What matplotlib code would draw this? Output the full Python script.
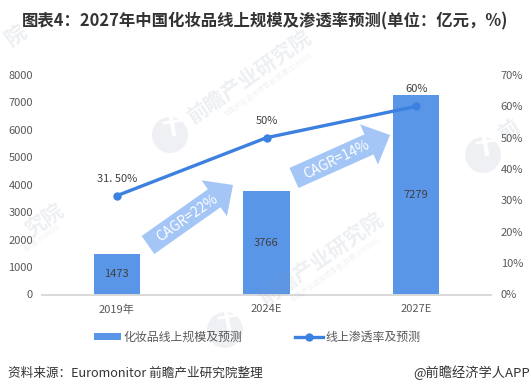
import matplotlib
matplotlib.use("Agg")
import matplotlib.pyplot as plt
from matplotlib.lines import Line2D
from matplotlib.patches import FancyArrow, Circle
from matplotlib.transforms import Affine2D

plt.rcParams['font.family'] = ['Noto Sans CJK SC', 'DejaVu Sans']

categories = ['2019年', '2024E', '2027E']
sizes = [1473, 3766, 7279]
rates = [31.5, 50, 60]
rate_labels = ['31. 50%', '50%', '60%']
left_ticks = [0, 1000, 2000, 3000, 4000, 5000, 6000, 7000, 8000]
right_ticks = [0, 10, 20, 30, 40, 50, 60, 70]

W, H = 531, 392
fig = plt.figure(figsize=(W / 100, H / 100), dpi=100)
ax = fig.add_axes([42 / W, 1 - 294.5 / H, 449 / W, 219.5 / H])
ax2 = ax.twinx()

grey = '#595959'
bar_color = '#5A96E7'
line_color = '#3C80E0'
arrow_color = '#A3C6F6'

x = [0, 1, 2]
ax.bar(x, sizes, width=0.31, color=bar_color, zorder=2, label='化妆品线上规模及预测')
ax.set_xlim(-0.5, 2.5)
ax.set_ylim(0, 8000)
ax.set_yticks(left_ticks)
ax.set_xticks(x)
ax.set_xticklabels(categories)
ax.tick_params(axis='both', length=0, labelsize=8, labelcolor=grey)
ax.tick_params(axis='x', pad=7)
ax.tick_params(axis='y', pad=6.5)

for i, v in enumerate(sizes):
    ax.text(i, v / 2, str(v), ha='center', va='center', fontsize=8, color='#404040', zorder=5)

ax2.plot(x, rates, color=line_color, lw=2.4, marker='o', ms=5, zorder=4, label='线上渗透率及预测')
ax2.set_ylim(0, 70)
ax2.set_yticks(right_ticks)
ax2.set_yticklabels([f'{t}%' for t in right_ticks])
ax2.tick_params(axis='y', length=0, labelsize=8, labelcolor=grey, pad=7)

for i, lab in enumerate(rate_labels):
    ax2.text(i, rates[i] + 5.4, lab, ha='center', va='center', fontsize=8, color='#404040')

for a in (ax, ax2):
    for s in ('top', 'left', 'right'):
        a.spines[s].set_visible(False)
    a.spines['bottom'].set_color('#D9D9D9')
    a.spines['bottom'].set_linewidth(1.2)
ax.patch.set_alpha(0)
ax2.patch.set_alpha(0)

# everything below is placed in pixels from the top left corner
px = Affine2D().scale(1, -1).translate(0, H)

# CAGR arrows
for (x0, y0, x1, y1, txt, rot, tx, ty) in [
    (148, 245, 233, 185, 'CAGR=22%', 35, 187, 218),
    (294, 178, 390, 135, 'CAGR=14%', 26, 337, 160),
]:
    fig.add_artist(FancyArrow(x0, y0, x1 - x0, y1 - y0, width=22, head_width=44, head_length=23,
                              length_includes_head=True, color=arrow_color, lw=0, transform=px, zorder=6))
    fig.text(tx / W, 1 - ty / H, txt, color='white', fontsize=10, rotation=rot, ha='center', va='center',
             rotation_mode='anchor', zorder=7)

# watermarks, the ones at the edges only show the part of the name that is in the picture
wm = '#7F8FA8'
sub = '中国产业咨询领导者(股票:839599)'
for (wx, wy, txt, sx, sy, stxt) in [
    (249, 77, '前瞻产业研究院', 268, 85, sub),
    (321, 259, '前瞻产业研究院', 335, 270, sub),
    (44, 220, '究院', 42, 238, '(股票:839599)'),
    (509, 130, '前', None, None, None),
    (16, 36, '院', None, None, None),
]:
    fig.text(wx / W, 1 - wy / H, txt, color=wm, fontsize=15, rotation=35, ha='center', va='center',
             rotation_mode='anchor', alpha=0.14, fontweight='bold', zorder=1)
    if stxt:
        fig.text(sx / W, 1 - sy / H, stxt, color=wm, fontsize=5, rotation=35, ha='center', va='center',
                 rotation_mode='anchor', alpha=0.12, zorder=1)
for (cx, cy, r) in [(170, 135, 18), (225, 330, 18), (483, 155, 18)]:
    fig.add_artist(Circle((cx, cy), r, color=wm, lw=0, transform=px, zorder=1, alpha=0.13))
    fig.add_artist(Line2D([cx + 1, cx + 4], [cy - r, cy - 1], color='white', lw=3, transform=px, zorder=1))
    fig.add_artist(Line2D([cx - 6, cx + 13], [cy - r + 6, cy - r + 3], color='white', lw=2, transform=px, zorder=1))

h1, l1 = ax.get_legend_handles_labels()
h2, l2 = ax2.get_legend_handles_labels()
fig.legend(h1 + h2, l1 + l2, ncol=2, loc='center', bbox_to_anchor=(257 / W, 1 - 337.5 / H), frameon=False,
           fontsize=8.6, labelcolor=grey, handlelength=2.3, handleheight=0.5, handletextpad=0.2, columnspacing=4.4)

fig.text(265 / W, 1 - 21 / H, '图表4：2027年中国化妆品线上规模及渗透率预测(单位：亿元，%)', ha='center', va='center',
         fontsize=11.8, fontweight='bold', color='#333333')
fig.text(8 / W, 1 - 373 / H, '资料来源：Euromonitor 前瞻产业研究院整理', ha='left', va='center', fontsize=9.1, color='#333333')
fig.text(530 / W, 1 - 373 / H, '@前瞻经济学人APP', ha='right', va='center', fontsize=9.5, color='#333333')

fig.savefig('out.png', dpi=100)
